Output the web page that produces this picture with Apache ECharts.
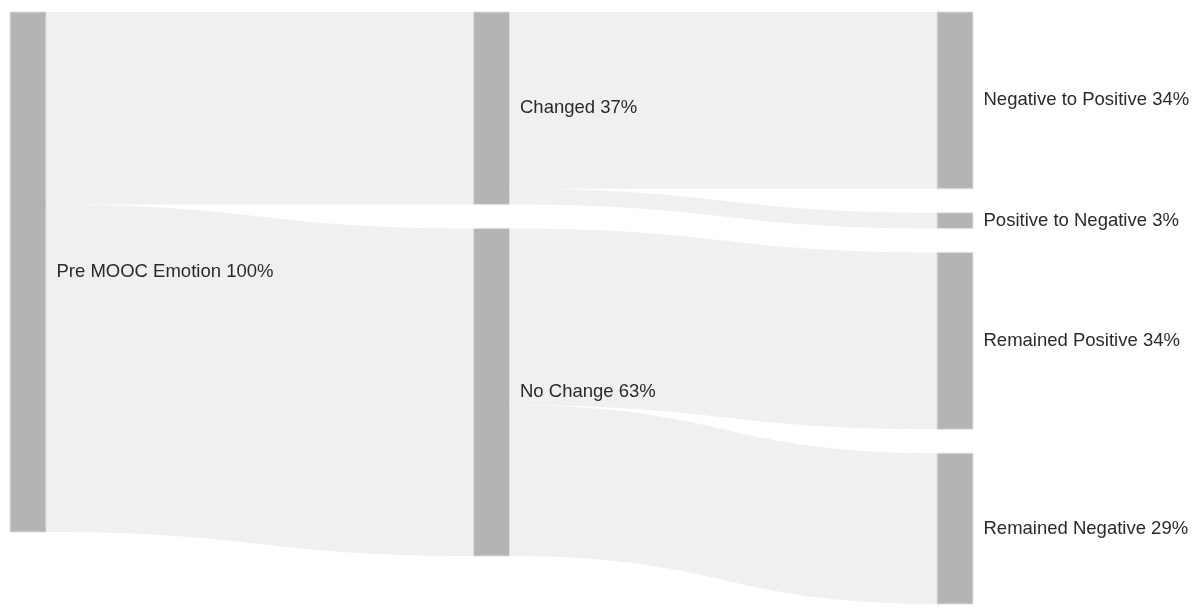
<!DOCTYPE html>
<html style="height: 100%">
<head>
  <meta charset="utf-8">
  <title>MOOC Emotion</title>
  <script src="https://cdn.jsdelivr.net/npm/echarts@6/dist/echarts.min.js"></script>
</head>
<body style="height: 100%; margin: 0; background-color: #ffffff;">
  <div id="container" style="width: 1199px; height: 608px;"></div>
  <script type="text/javascript">
    // node names, in column order
    var nodeNames = ['Pre MOOC Emotion', 'Changed', 'No Change',
      'Negative to Positive', 'Positive to Negative', 'Remained Positive', 'Remained Negative'];
    // flows (percent)
    var linkSources = ['Pre MOOC Emotion', 'Pre MOOC Emotion', 'Changed', 'Changed', 'No Change', 'No Change'];
    var linkTargets = ['Changed', 'No Change', 'Negative to Positive', 'Positive to Negative', 'Remained Positive', 'Remained Negative'];
    var linkValues = [37, 63, 34, 3, 34, 29];

    var nodes = [];
    for (var i = 0; i < nodeNames.length; i++) {
      nodes.push({ name: nodeNames[i] });
    }
    var links = [];
    for (var j = 0; j < linkValues.length; j++) {
      links.push({ source: linkSources[j], target: linkTargets[j], value: linkValues[j] });
    }

    var myChart = echarts.init(document.getElementById('container'));
    var option = {
      animation: false,
      series: [{
        type: 'sankey',
        left: 10,
        right: 226,
        top: 12,
        bottom: 4,
        nodeWidth: 36,
        nodeGap: 24,
        nodeAlign: 'justify',
        layoutIterations: 0,   // keep the given node order
        draggable: false,
        emphasis: { disabled: true },
        data: nodes,
        links: links,
        itemStyle: {
          color: '#b4b4b4',
          borderColor: '#e0e0e0',
          borderWidth: 1
        },
        lineStyle: {
          color: '#f0f0f0',
          opacity: 1,
          curveness: 0.5
        },
        label: {
          position: 'right',
          distance: 10,
          color: '#2a2a2a',
          fontSize: 18.5,
          fontFamily: 'Liberation Sans, Arial, sans-serif',
          formatter: function (p) {
            return p.name + ' ' + p.value + '%';
          }
        }
      }]
    };
    myChart.setOption(option);
  </script>
</body>
</html>
